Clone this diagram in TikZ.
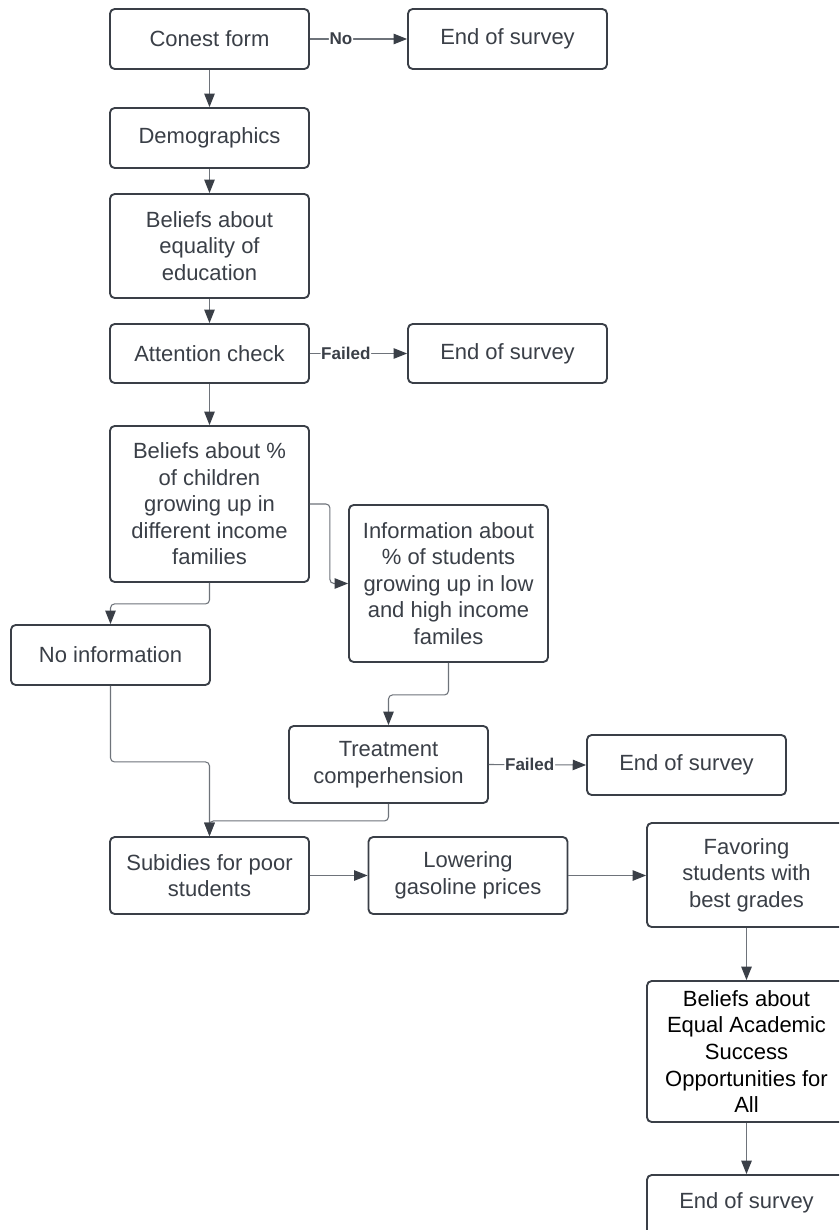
\documentclass[tikz,border=0pt]{standalone}
\usepackage{fontspec}
\setmainfont{Liberation Sans}
\usetikzlibrary{arrows.meta}
\definecolor{ink}{HTML}{3A3F47}
\definecolor{wire}{HTML}{6E737A}
\tikzset{
  box/.style={draw=ink, line width=1.4pt, rounded corners=3.5pt, minimum width=149.25pt,
    align=center, text=ink, inner sep=2pt, font=\fontsize{16.5}{19.9}\selectfont},
  conn/.style={draw=wire, line width=0.8pt, rounded corners=3pt,
    -{Triangle[length=10pt,width=7.8pt,fill=ink,color=ink]}},
  lbl/.style={fill=white, inner sep=0.5pt, text=ink, font=\fontsize{12.8}{14}\selectfont\bfseries}
}
\begin{document}
\begin{tikzpicture}[x=0.75pt,y=-0.75pt]
\useasboundingbox (0,0) rectangle (839,1230);
\clip (0,0) rectangle (839,1230);
\fill[white] (0,0) rectangle (839,1230);

\node[box, minimum height=45pt] (conest) at (209.5,39) {Conest form};
\node[box, minimum height=45pt] (end1) at (507.5,39) {End of survey};
\node[box, minimum height=45pt] (demo) at (209.5,138) {Demographics};
\node[box, minimum height=78pt] (beq) at (209.5,246) {Beliefs about\\equality of\\education};
\node[box, minimum height=44.25pt] (att) at (209.5,353.5) {Attention check};
\node[box, minimum height=44.25pt] (end2) at (507.5,353.5) {End of survey};
\node[box, minimum height=117pt] (bpct) at (209.5,504) {Beliefs about \%\\of children\\growing up in\\different income\\families};
\node[box, minimum height=117.75pt] (info) at (448.5,583.5) {Information about\\\% of students\\growing up in low\\and high income\\familes};
\node[box, minimum height=45pt] (noinfo) at (110.5,655) {No information};
\node[box, minimum height=57.75pt] (treat) at (388.5,764.5) {Treatment\\comperhension};
\node[box, minimum height=45pt] (end3) at (686.5,765) {End of survey};
\node[box, minimum height=57.75pt] (subs) at (209.5,875.5) {Subidies for poor\\students};
\node[box, minimum height=57.75pt] (lower) at (468,875.5) {Lowering\\gasoline prices};
\node[box, minimum height=78pt] (fav) at (746.5,875) {Favoring\\students with\\best grades};
\node[box, minimum height=105.75pt, text=black] (beqa) at (746.5,1051.5) {Beliefs about\\Equal Academic\\Success\\Opportunities for\\All};
\node[box, minimum height=45pt] (end4) at (746.5,1205) {};
\node[text=ink, font=\fontsize{16.5}{19.9}\selectfont] (end4t) at (746.5,1203) {End of survey};

\draw[conn] (conest.east) -- node[lbl, pos=0.32] {No} (end1.west);
\draw[conn] (conest.south) -- (demo.north);
\draw[conn] (demo.south) -- (beq.north);
\draw[conn] (beq.south) -- (att.north);
\draw[conn] (att.east) -- node[lbl, pos=0.37] {Failed} (end2.west);
\draw[conn] (att.south) -- (bpct.north);
\draw[conn] (bpct.east) -- ++(20,0) |- (info.west);
\draw[conn] (bpct.south) -- ++(0,21) -| (noinfo.north);
\draw[conn] (info.south) -- ++(0,32) -| (treat.north);
\draw[conn] (treat.east) -- node[lbl, pos=0.42] {Failed} (end3.west);
\draw[conn] (noinfo.south) -- ++(0,76) -| (subs.north);
\draw[conn] (treat.south) -- ++(0,17) -| (subs.north);
\draw[conn] (subs.east) -- (lower.west);
\draw[conn] (lower.east) -- (fav.west |- lower.east);
\draw[conn] (fav.south) -- (beqa.north);
\draw[conn] (beqa.south) -- (end4.north);
\end{tikzpicture}
\end{document}
